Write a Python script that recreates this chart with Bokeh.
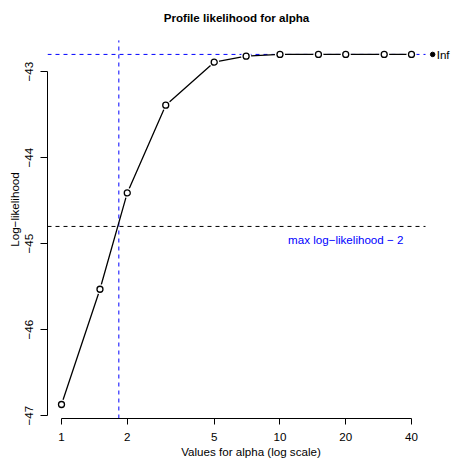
import math
import numpy as np
from bokeh.plotting import figure
from bokeh.models import Range1d, FixedTicker, Label, ColumnDataSource
from bokeh.embed import file_html
from bokeh.resources import INLINE
from bokeh.core.properties import value

# ---- data ----
alpha = [1, 1.5, 2, 3, 5, 7, 10, 15, 20, 30, 40]
loglik = [-46.87, -45.53, -44.41, -43.39, -42.89, -42.82, -42.80, -42.80, -42.80, -42.80, -42.80]
alpha_inf_pos = 50
loglik_inf = -42.80
ci_alpha = 1.83
x_ticks = [1, 2, 5, 10, 20, 40]
y_ticks = [-47, -46, -45, -44, -43]
y_tick_labels = ["\u221247", "\u221246", "\u221245", "\u221244", "\u221243"]
title_text = "Profile likelihood for alpha"
xlab = "Values for alpha (log scale)"
ylab = "Log\u2212likelihood"
cutoff_text = "max log\u2212likelihood \u2212 2"
cutoff_label_alpha = 20
inf_text = "Inf"

FONT = "Liberation Sans"
FS = "11.6px"

# ---- layout ----
W, H = 454, 460
ML, MB = 47, 41
FW, FH = W - ML, H - MB
USR_W, USR_H = 378, 379   # size of the R plot region in px

lx = np.log10(alpha)
ex = 0.04 * (lx.max() - lx.min())
ux0, ux1 = lx.min() - ex, lx.max() + ex
x_end = ux0 + (ux1 - ux0) * FW / USR_W
ly = np.array(loglik)
ey = 0.04 * (ly.max() - ly.min())
uy0, uy1 = ly.min() - ey, ly.max() + ey
y_end = uy0 + (uy1 - uy0) * FH / USR_H
ppd = USR_W / (ux1 - ux0)   # px per decade
ppu = USR_H / (uy1 - uy0)   # px per unit y

p = figure(width=W, height=H, x_axis_type="log",
           x_range=Range1d(10 ** ux0, 10 ** x_end), y_range=Range1d(uy0, y_end),
           output_backend="svg", toolbar_location=None, title=None,
           min_border_left=ML, min_border_right=0, min_border_top=0, min_border_bottom=MB,
           outline_line_color=None, background_fill_color="white", border_fill_color="white")
p.grid.visible = False

ymax = max(loglik)
cut = ymax - 2

# reference lines
p.segment(x0=[10 ** ux0], x1=[10 ** ux1], y0=[ymax], y1=[ymax], line_color="blue", line_dash="4 4", line_width=1)
p.segment(x0=[10 ** ux0], x1=[10 ** ux1], y0=[cut], y1=[cut], line_color="black", line_dash="4 4", line_width=1)
p.segment(x0=[ci_alpha], x1=[ci_alpha], y0=[uy0], y1=[uy1], line_color="blue", line_dash="4 4", line_width=1)

src = ColumnDataSource(dict(x=alpha, y=loglik))
p.line("x", "y", source=src, line_color="black", line_width=1.3)
p.scatter("x", "y", source=src, size=10, fill_color="white", line_color=None)
p.scatter("x", "y", source=src, size=6, fill_color="white", line_color="black", line_width=1.3)

p.scatter([alpha_inf_pos], [loglik_inf], size=4.5, fill_color="black", line_color="black")
p.text([alpha_inf_pos], [loglik_inf], text=[inf_text], x_offset=4, text_baseline="middle",
       text_align="left", text_font=value(FONT), text_font_size=FS, text_color="black")
p.text([cutoff_label_alpha], [cut], text=[cutoff_text], y_offset=13, text_baseline="alphabetic",
       text_align="center", text_font=value(FONT), text_font_size=FS, text_color="blue")

# axes
xa = p.xaxis[0]
xa.ticker = FixedTicker(ticks=x_ticks)
xa.major_label_overrides = {t: str(t) for t in x_ticks}
xa.bounds = (min(x_ticks), max(x_ticks))
xa.axis_label = xlab
ya = p.yaxis[0]
ya.ticker = FixedTicker(ticks=y_ticks)
ya.major_label_overrides = dict(zip(y_ticks, y_tick_labels))
ya.bounds = (min(y_ticks), max(y_ticks))
ya.major_label_orientation = "vertical"
ya.axis_label = ylab
for ax, tick_out, standoff, lab_standoff in ((xa, 6, 8, 1), (ya, 7, 7, 2)):
    ax.minor_tick_line_color = None
    ax.major_tick_in = 0
    ax.major_tick_out = tick_out
    ax.major_label_standoff = standoff
    ax.axis_label_standoff = lab_standoff
    ax.axis_line_color = "black"
    ax.major_tick_line_color = "black"
    ax.major_label_text_font = FONT
    ax.major_label_text_font_size = FS
    ax.major_label_text_color = "black"
    ax.axis_label_text_font = FONT
    ax.axis_label_text_font_size = FS
    ax.axis_label_text_font_style = "normal"
    ax.axis_label_text_color = "black"

xc = 10 ** ((ux0 + ux1) / 2)
p.add_layout(Label(x=xc, y=y_end - 17 / ppu, text=title_text, text_align="center",
                   text_baseline="alphabetic", text_font=FONT, text_font_size=FS,
                   text_font_style="bold", text_color="black"))

open("out.html", "w").write(file_html(p, INLINE))
